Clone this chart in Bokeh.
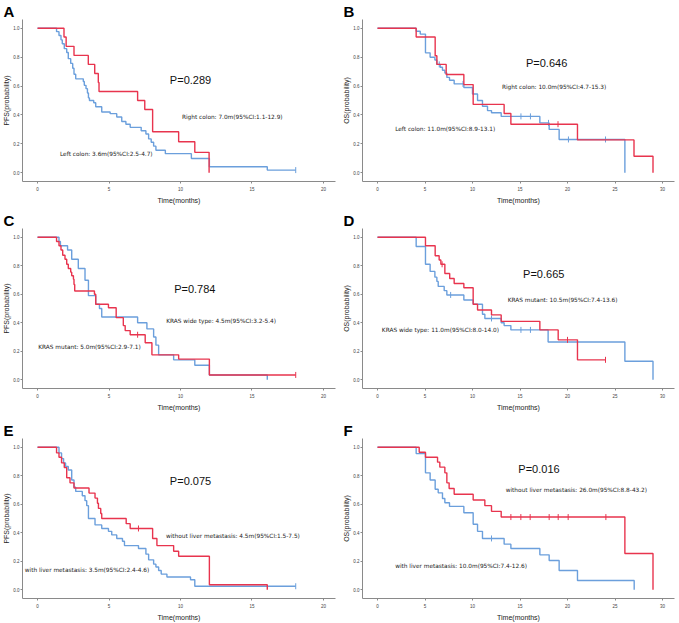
import numpy as np
from bokeh.plotting import figure
from bokeh.layouts import gridplot
from bokeh.models import Range1d, FixedTicker, Label, PrintfTickFormatter
from bokeh.embed import file_html
from bokeh.resources import INLINE

RED = "#e8344e"
BLUE = "#6b9fdc"

# ---------------- Panel A: PFS by tumour side ----------------
a_red_t = [0, 1.85, 2.0, 2.55, 3.55, 4.0, 4.25, 4.3, 7.0, 7.5, 8.05, 9.87, 11.0, 12.0]
a_red_s = [1.0, 0.94, 0.875, 0.8125, 0.75, 0.6875, 0.625, 0.5625, 0.5, 0.4375, 0.284, 0.214, 0.141, 0.0]
a_red_c = []
a_blue_t = [0, 1.33, 1.5, 1.64, 1.73, 1.87, 2.04, 2.15, 2.32, 2.46, 2.55, 2.67, 3.2, 3.27, 3.39, 3.49,
            3.56, 3.63, 3.93, 4.07, 4.49, 5.08, 5.54, 5.89, 6.18, 6.48, 7.25, 7.58, 7.77, 7.95, 8.12,
            8.28, 8.94, 10.76, 12.02, 16.07, 18.06]
a_blue_s = [1.0, 0.977, 0.95, 0.92, 0.893, 0.859, 0.832, 0.79, 0.757, 0.723, 0.682, 0.65, 0.632, 0.605,
            0.582, 0.552, 0.518, 0.5, 0.484, 0.457, 0.42, 0.409, 0.386, 0.355, 0.336, 0.314, 0.291,
            0.268, 0.234, 0.211, 0.184, 0.155, 0.132, 0.098, 0.041, 0.018, 0.018]
a_blue_c = [18.06]

# ---------------- Panel B: OS by tumour side ----------------
b_red_t = [0, 4.07, 6.07, 6.25, 7.23, 9.09, 10.07, 13.33, 14.04, 21.05, 27.0, 29.0]
b_red_s = [1.0, 0.94, 0.81, 0.75, 0.68, 0.61, 0.473, 0.41, 0.336, 0.227, 0.114, 0.0]
b_red_c = [19.0]
b_blue_t = [0, 4.07, 4.5, 5.05, 5.54, 6.04, 6.25, 6.6, 6.84, 7.09, 7.3, 7.58, 8.07, 9.09, 10.0, 10.53,
            11.05, 11.58, 12.0, 13.02, 17.09, 18.07, 19.12, 26.04]
b_blue_s = [1.0, 0.98, 0.96, 0.83, 0.8, 0.78, 0.75, 0.73, 0.71, 0.69, 0.66, 0.64, 0.615, 0.59, 0.545,
            0.5, 0.46, 0.43, 0.415, 0.39, 0.345, 0.3, 0.23, 0.0]
b_blue_c = [6.5, 9.0, 15.1, 16.1, 18.0, 20.1, 24.0]

# ---------------- Panel C: PFS by KRAS ----------------
c_red_t = [0, 1.33, 1.5, 1.64, 1.76, 1.92, 2.04, 2.15, 2.32, 2.39, 2.51, 2.55, 2.6, 3.98, 4.07, 4.96,
           5.5, 6.0, 6.13, 6.48, 7.53, 8.0, 9.87, 12.02, 18.06]
c_red_s = [1.0, 0.97, 0.94, 0.91, 0.873, 0.845, 0.81, 0.78, 0.755, 0.73, 0.705, 0.668, 0.623, 0.6, 0.53,
           0.505, 0.436, 0.38, 0.345, 0.316, 0.26, 0.175, 0.145, 0.034, 0.034]
c_red_c = [7.0, 18.06]
c_blue_t = [0, 1.5, 1.6, 2.1, 2.39, 2.85, 3.32, 3.56, 4.07, 4.33, 4.49, 7.0, 7.65, 8.12, 8.28, 8.47,
            9.52, 11.0, 12.02, 16.07]
c_blue_s = [1.0, 0.97, 0.94, 0.91, 0.845, 0.78, 0.698, 0.59, 0.53, 0.5, 0.44, 0.4, 0.357, 0.3, 0.243,
            0.175, 0.14, 0.102, 0.034, 0.0]
c_blue_c = []

# ---------------- Panel D: OS by KRAS ----------------
d_red_t = [0, 5.05, 6.07, 6.49, 6.67, 7.09, 7.6, 8.07, 9.09, 10.07, 10.53, 12.0, 13.02, 17.09, 19.02,
           21.05, 24.0]
d_red_s = [1.0, 0.94, 0.87, 0.84, 0.81, 0.745, 0.71, 0.675, 0.645, 0.53, 0.49, 0.455, 0.41, 0.35, 0.28,
           0.14, 0.14]
d_red_c = [6.8, 20.0, 24.0]
d_blue_t = [0, 4.07, 5.05, 5.54, 6.04, 6.25, 6.39, 7.02, 7.3, 9.09, 10.07, 11.05, 11.3, 13.02, 13.33,
            14.04, 17.96, 26.04, 29.0]
d_blue_s = [1.0, 0.935, 0.81, 0.76, 0.72, 0.69, 0.655, 0.625, 0.595, 0.56, 0.53, 0.46, 0.43, 0.4, 0.38,
            0.35, 0.265, 0.13, 0.0]
d_blue_c = [7.7, 12.0, 15.1, 16.1]

# ---------------- Panel E: PFS by liver metastasis ----------------
e_red_t = [0, 1.33, 1.5, 1.68, 1.87, 2.04, 2.27, 2.55, 3.6, 4.02, 4.19, 4.26, 4.42, 4.49, 6.2, 6.48,
           8.05, 8.35, 9.52, 9.87, 12.02, 16.07]
e_red_s = [1.0, 0.96, 0.93, 0.89, 0.857, 0.786, 0.75, 0.714, 0.678, 0.643, 0.607, 0.571, 0.535, 0.5,
           0.464, 0.43, 0.36, 0.31, 0.27, 0.235, 0.035, 0.0]
e_red_c = [7.06]
e_blue_t = [0, 1.5, 1.68, 1.82, 1.96, 2.15, 2.39, 2.55, 2.67, 3.13, 3.32, 3.44, 3.56, 4.02, 4.49, 4.96,
            5.19, 5.54, 5.94, 6.08, 7.06, 7.58, 7.77, 8.12, 8.28, 8.47, 8.65, 9.05, 10.7, 11.0, 18.06]
e_blue_s = [1.0, 0.96, 0.92, 0.89, 0.865, 0.84, 0.77, 0.72, 0.69, 0.66, 0.625, 0.59, 0.5, 0.455, 0.43,
            0.41, 0.385, 0.36, 0.34, 0.31, 0.29, 0.25, 0.21, 0.18, 0.16, 0.135, 0.11, 0.09, 0.07, 0.025,
            0.025]
e_blue_c = [18.06]

# ---------------- Panel F: OS by liver metastasis ----------------
f_red_t = [0, 4.39, 5.05, 6.32, 6.56, 7.09, 7.3, 7.54, 8.07, 10.07, 11.3, 12.0, 13.02, 26.04, 29.0]
f_red_s = [1.0, 0.965, 0.93, 0.895, 0.86, 0.82, 0.75, 0.71, 0.67, 0.63, 0.59, 0.55, 0.51, 0.255, 0.0]
f_red_c = [14.04, 15.09, 16.07, 18.07, 19.02, 20.07, 24.04]
f_blue_t = [0, 4.07, 5.05, 5.54, 6.07, 6.39, 6.84, 7.09, 7.58, 9.09, 10.07, 10.53, 11.05, 13.33, 14.04,
            17.09, 18.07, 19.12, 21.05, 27.02]
f_blue_s = [1.0, 0.955, 0.82, 0.77, 0.705, 0.68, 0.64, 0.61, 0.585, 0.54, 0.46, 0.41, 0.36, 0.32, 0.29,
            0.245, 0.205, 0.135, 0.065, 0.0]
f_blue_c = [12.0]

panel_letters = ["A", "B", "C", "D", "E", "F"]
y_labels = ["PFS(probability)", "OS(probability)", "PFS(probability)",
            "OS(probability)", "PFS(probability)", "OS(probability)"]
p_values = ["P=0.289", "P=0.646", "P=0.784", "P=0.665", "P=0.075", "P=0.016"]
red_labels = ["Right colon: 7.0m(95%CI:1.1-12.9)",
              "Right colon: 10.0m(95%CI:4.7-15.3)",
              "KRAS mutant: 5.0m(95%CI:2.9-7.1)",
              "KRAS mutant: 10.5m(95%CI:7.4-13.6)",
              "without liver metastasis: 4.5m(95%CI:1.5-7.5)",
              "without liver metastasis: 26.0m(95%CI:8.8-43.2)"]
blue_labels = ["Left colon: 3.6m(95%CI:2.5-4.7)",
               "Left colon: 11.0m(95%CI:8.9-13.1)",
               "KRAS wide type: 4.5m(95%CI:3.2-5.4)",
               "KRAS wide type: 11.0m(95%CI:8.0-14.0)",
               "with liver metastasis: 3.5m(95%CI:2.4-4.6)",
               "with liver metastasis: 10.0m(95%CI:7.4-12.6)"]
x_max = [20, 30, 20, 30, 20, 30]

curves = [
    (a_red_t, a_red_s, a_red_c, a_blue_t, a_blue_s, a_blue_c),
    (b_red_t, b_red_s, b_red_c, b_blue_t, b_blue_s, b_blue_c),
    (c_red_t, c_red_s, c_red_c, c_blue_t, c_blue_s, c_blue_c),
    (d_red_t, d_red_s, d_red_c, d_blue_t, d_blue_s, d_blue_c),
    (e_red_t, e_red_s, e_red_c, e_blue_t, e_blue_s, e_blue_c),
    (f_red_t, f_red_s, f_red_c, f_blue_t, f_blue_s, f_blue_c),
]

# text placement (layout, data units): (p-value center), (red label left), (blue label left)
p_pos = [(10.7, 0.64), (17.8, 0.757), (11.0, 0.64), (17.5, 0.745), (10.7, 0.76), (17.0, 0.85)]
red_pos = [(10.1, 0.386), (13.1, 0.593), (0.05, 0.232), (13.7, 0.563), (8.98, 0.38), (13.5, 0.70)]
blue_pos = [(1.57, 0.13), (1.86, 0.302), (9.0, 0.414), (0.46, 0.35), (-0.89, 0.14), (1.86, 0.164)]

# layout per row: (height, top border, bottom border)
row_layout = [(206, 17, 22), (207, 22, 21), (210, 25, 22)]


def surv_at(t_list, s_list, times):
    t = np.asarray(t_list)
    s = np.asarray(s_list)
    out = []
    for c in times:
        i = np.searchsorted(t, c, side="right") - 1
        out.append(s[max(i, 0)])
    return out


def make_panel(i, width):
    xm = x_max[i]
    px_per = 285.0 / xm
    h, top, bottom = row_layout[i // 2]
    p = figure(width=width, height=h, output_backend="svg", toolbar_location=None,
               x_range=Range1d(-15.0 / px_per, xm + 12.0 / px_per),
               y_range=Range1d(-0.061, 1.061),
               min_border_left=0, min_border_right=5, min_border_top=top, min_border_bottom=bottom)
    p.title.text = panel_letters[i]
    p.title.text_font = "Liberation Sans"
    p.title.text_font_size = "15px"
    p.title.text_font_style = "bold"
    p.title.text_color = "#000000"
    p.title.offset = -19
    p.title.standoff = 0
    p.outline_line_color = None
    p.xgrid.visible = False
    p.ygrid.visible = False
    p.background_fill_color = "white"
    p.border_fill_color = "white"

    for ax in (p.xaxis[0], p.yaxis[0]):
        ax.axis_line_color = "#8a8a8a"
        ax.axis_line_width = 1
        ax.major_tick_line_color = "#8a8a8a"
        ax.major_tick_out = 2
        ax.major_tick_in = 0
        ax.minor_tick_out = 0
        ax.minor_tick_in = 0
        ax.minor_tick_line_color = None
        ax.major_label_text_font = "Liberation Sans"
        ax.major_label_text_font_size = "4.5px"
        ax.major_label_text_color = "#444444"
        ax.axis_label_text_font = "Liberation Sans"
        ax.axis_label_text_font_size = "7px"
        ax.axis_label_text_font_style = "normal"
        ax.axis_label_text_color = "#222222"
    p.xaxis.ticker = FixedTicker(ticks=list(range(0, xm + 1, 5)))
    p.yaxis.ticker = FixedTicker(ticks=[0, 0.2, 0.4, 0.6, 0.8, 1.0])
    p.yaxis.formatter = PrintfTickFormatter(format="%.1f")
    p.xaxis.axis_label = "Time(months)"
    p.yaxis.axis_label = y_labels[i]
    p.xaxis.major_label_standoff = 3
    p.xaxis.axis_label_standoff = 3
    p.yaxis.major_label_standoff = 1
    p.yaxis.axis_label_standoff = 0

    rt, rs, rc, bt, bs, bc = curves[i]
    p.step(bt, bs, mode="after", line_color=BLUE, line_width=1.4)
    if bc:
        p.scatter(bc, surv_at(bt, bs, bc), marker="dash", angle=np.pi / 2, size=6,
                  line_color=BLUE, line_width=1)
    p.step(rt, rs, mode="after", line_color=RED, line_width=1.4)
    if rc:
        p.scatter(rc, surv_at(rt, rs, rc), marker="dash", angle=np.pi / 2, size=6,
                  line_color=RED, line_width=1)

    p.add_layout(Label(x=p_pos[i][0], y=p_pos[i][1], text=p_values[i], text_align="center",
                       text_baseline="middle", text_font="Liberation Sans", text_font_size="11px",
                       text_color="#111111"))
    p.add_layout(Label(x=red_pos[i][0], y=red_pos[i][1], text=red_labels[i], text_align="left",
                       text_baseline="middle", text_font="DejaVu Sans", text_font_size="5.8px",
                       text_color="#222222"))
    p.add_layout(Label(x=blue_pos[i][0], y=blue_pos[i][1], text=blue_labels[i], text_align="left",
                       text_baseline="middle", text_font="DejaVu Sans", text_font_size="5.8px",
                       text_color="#222222"))
    return p


panels = [make_panel(i, 340 if i % 2 == 0 else 339) for i in range(6)]
grid = gridplot([[panels[0], panels[1]], [panels[2], panels[3]], [panels[4], panels[5]]],
                toolbar_location=None)

open("out.html", "w").write(file_html(grid, INLINE))
